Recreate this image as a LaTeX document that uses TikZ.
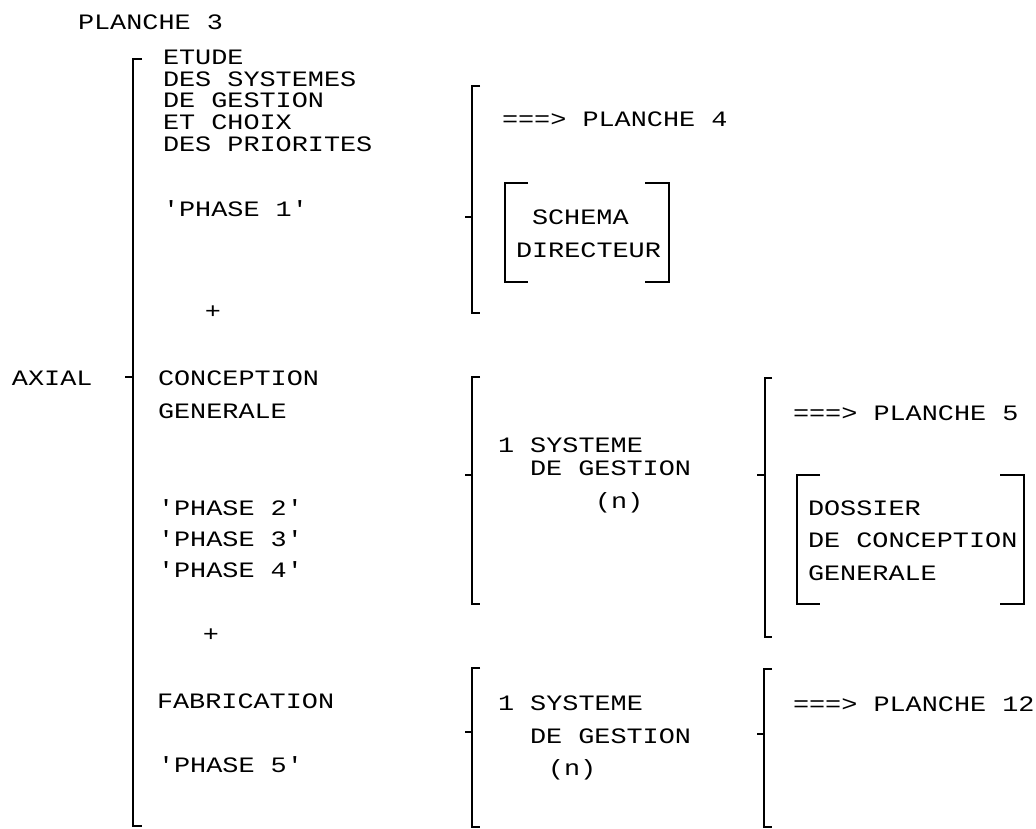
\documentclass[tikz,border=0pt]{standalone}
\usepackage{fontspec}
\newfontfamily\plotfont[FakeStretch=1.22]{Liberation Mono}
\begin{document}
\begin{tikzpicture}[x=1pt,y=-1pt,
  txt/.style={anchor=base west,inner sep=0pt,outer sep=0pt,font=\plotfont\fontsize{22}{22}\selectfont},
  brk/.style={line width=1.6pt,line cap=butt,line join=miter}]
\useasboundingbox[fill=white] (0,0) rectangle (1036,829);
% left column
\node[txt] (pl3) at (78,30) {PLANCHE 3};
\node[txt] (e1) at (163,65) {ETUDE};
\node[txt] (e2) at (163,87) {DES SYSTEMES};
\node[txt] (e3) at (163,108) {DE GESTION};
\node[txt] (e4) at (163,130) {ET CHOIX};
\node[txt] (e5) at (163,152) {DES PRIORITES};
\node[txt] (p1) at (163,217) {'PHASE 1'};
\node[txt,anchor=center] (plus1) at (213,312) {+};
\node[txt] (axial) at (12,385) {AXIAL};
\node[txt] (c1) at (158,385) {CONCEPTION};
\node[txt] (c2) at (158,418) {GENERALE};
\node[txt] (p2) at (158,515) {'PHASE 2'};
\node[txt] (p3) at (158,546) {'PHASE 3'};
\node[txt] (p4) at (158,577) {'PHASE 4'};
\node[txt,anchor=center] (plus2) at (211,635) {+};
\node[txt] (fab) at (157,708) {FABRICATION};
\node[txt] (p5) at (158,772) {'PHASE 5'};
% middle column
\node[txt] (pl4) at (502,127) {===> PLANCHE 4};
\node[txt] (sch1) at (532,225) {SCHEMA};
\node[txt] (sch2) at (516,257) {DIRECTEUR};
\node[txt] (sg1) at (498,452) {1 SYSTEME};
\node[txt] (sg2) at (530,475) {DE GESTION};
\node[txt] (sg3) at (595,508) {(n)};
\node[txt] (sf1) at (498,710) {1 SYSTEME};
\node[txt] (sf2) at (530,743) {DE GESTION};
\node[txt] (sf3) at (548,775) {(n)};
% right column
\node[txt] (pl5) at (793,420) {===> PLANCHE 5};
\node[txt] (d1) at (808,515) {DOSSIER};
\node[txt] (d2) at (808,547) {DE CONCEPTION};
\node[txt] (d3) at (808,580) {GENERALE};
\node[txt] (pl12) at (793,711) {===> PLANCHE 12};
% brackets
\draw[brk] (142,59) -- (133,59) -- (133,826) -- (142,826);
\draw[brk] (125,377) -- (133,377);
\draw[brk] (480,86) -- (472,86) -- (472,313) -- (480,313);
\draw[brk] (465,217) -- (472,217);
\draw[brk] (528,183) -- (505,183) -- (505,282) -- (528,282);
\draw[brk] (645,183) -- (669,183) -- (669,282) -- (645,282);
\draw[brk] (480,377) -- (472,377) -- (472,604) -- (480,604);
\draw[brk] (465,475) -- (472,475);
\draw[brk] (772,378) -- (765,378) -- (765,637) -- (772,637);
\draw[brk] (757,475) -- (765,475);
\draw[brk] (820,475) -- (797,475) -- (797,604) -- (820,604);
\draw[brk] (1000,475) -- (1024,475) -- (1024,604) -- (1000,604);
\draw[brk] (480,668) -- (472,668) -- (472,827) -- (480,827);
\draw[brk] (465,732) -- (472,732);
\draw[brk] (772,669) -- (764,669) -- (764,827) -- (772,827);
\draw[brk] (757,734) -- (764,734);
\end{tikzpicture}
\end{document}
